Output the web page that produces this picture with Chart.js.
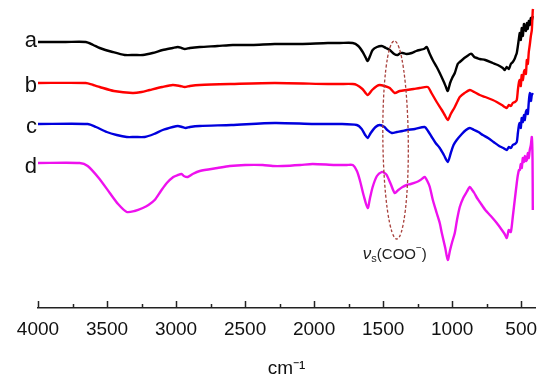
<!DOCTYPE html>
<html>
<head>
<meta charset="utf-8">
<script src="https://cdn.jsdelivr.net/npm/chart.js@4.4.1/dist/chart.umd.min.js"></script>
<style>
  html, body { margin: 0; padding: 0; background: #ffffff; }
  #wrap { width: 550px; height: 383px; position: relative; }
</style>
</head>
<body>
<div id="wrap"><canvas id="c" width="550" height="383"></canvas></div>
<script>
// ---- data (wavenumber in cm-1, offset transmittance in arbitrary units) ----
const seriesNames = ['a', 'b', 'c', 'd'];
const seriesColors = ['#000000', '#ff0000', '#0000dd', '#ee11ee'];

const wnA = [4000,3800,3654,3600,3553,3460,3372,3300,3241,3170,3097,3024,2987,2960,2937,2900,2828,2700,2589,2450,2285,2100,1900,1814,1720,1680,1648,1625,1612,1595,1576,1545,1510,1480,1452,1420,1394,1375,1358,1330,1293,1260,1235,1205,1184,1165,1141,1112,1090,1060,1045,1032,1015,1000,981,960,945,920,890,870,858,840,820,800,760,706,670,633,619,605,590,575,561,548,540,532,524,516,510,503,496,488,480,474,466,459,452,445,438,430,423,416];
const valA = [266,266,266,263,260,256,253,253,253,255,258,260,261,260,259,260,261,262,263,263,264,264,265,265,265,262,256,250,247,252,258,261,262,260,258,254,253,255,255,254,255,257,258,259,261,255,248,241,235,226,221,217,225,230,235,244,246,249,252,254,254,251,250,249,248,245,243,240,238,241,239,244,246,249,252,255,262,270,275,268,280,272,284,281,277,285,279,287,283,290,288,292];

const wnB = [4000,3654,3600,3553,3450,3314,3250,3191,3100,3024,2970,2937,2900,2828,2600,2285,1900,1814,1720,1691,1650,1612,1580,1545,1525,1490,1452,1416,1380,1329,1280,1235,1177,1150,1112,1075,1050,1032,1010,981,960,945,910,872,840,800,760,706,677,640,619,604,590,575,561,545,532,524,516,510,503,496,488,480,474,466,459,452,445,438,430,423,416,414];
const valB = [225,225,223,221,217,215,216,218,221,223,222,221,222,223,224,225,224,224,224,223,219,213,218,222,223,222,220,215,217,218,219,220,221,215,206,198,192,188,194,201,207,211,215,218,216,213,211,208,206,203,201,200,203,202,205,206,208,218,226,228,222,233,228,236,238,234,248,244,256,263,272,278,298,299];

const wnC = [4000,3640,3580,3502,3430,3357,3300,3227,3160,3097,3024,2987,2955,2930,2900,2828,2600,2285,2000,1814,1691,1655,1630,1612,1590,1555,1525,1490,1470,1437,1400,1360,1329,1270,1199,1175,1148,1120,1090,1060,1032,1010,990,967,930,900,872,840,810,778,740,700,660,630,604,590,575,561,545,532,524,516,510,503,496,488,480,474,466,459,452,445,438,430,423,416];
const valC = [184,184,181,176,173,171,171,171,174,178,181,182,181,180,181,182,183,185,184,184,183,179,173,170,175,181,183,181,178,175,176,177,178,179,181,177,171,165,160,153,146,155,163,168,174,178,180,178,176,173,170,166,162,160,158,161,160,163,164,166,175,183,185,180,190,186,193,188,196,198,194,206,215,207,213,215];

const wnD = [4000,3698,3640,3560,3480,3420,3357,3300,3241,3200,3155,3110,3067,3020,2987,2960,2944,2915,2880,2828,2700,2611,2500,2372,2300,2227,2100,2010,1850,1764,1720,1690,1669,1640,1612,1595,1576,1545,1510,1490,1474,1445,1416,1390,1360,1329,1300,1257,1230,1199,1180,1162,1140,1112,1090,1075,1050,1032,1015,1000,981,965,945,920,895,872,855,840,820,800,760,720,677,640,620,604,590,575,561,545,532,524,516,510,503,496,488,480,474,466,459,452,445,438,430,423,418,416];
const valD = [145,145,142,130,115,104,96,97,100,103,108,117,125,131,133,134,132,131,134,137,140,142,143,143,142,142,143,144,143,143,143,137,128,112,100,110,121,132,136,135,133,124,115,118,121,123,124,126,128,131,127,121,108,95,85,75,60,48,58,66,75,88,101,110,116,121,118,115,110,106,98,92,85,78,74,70,78,76,91,110,125,133,138,138,144,140,150,146,152,147,148,155,150,158,163,171,150,98];

const xTickValues = [4000,3500,3000,2500,2000,1500,1000,500];
const xMinorTickValues = [3750,3250,2750,2250,1750,1250,750];
const xRange = [400, 4000];
const yRange = [0, 300];

// annotation
const ellipseCenter = { wn: 1410, val: 168 };
const ellipseHalf = { wn: 92, val: 99 };
const noteAnchor = { wn: 1647, val: 49 };
const labelOffsets = [5, 9, 9, 10];

const wnList = [wnA, wnB, wnC, wnD];
const valList = [valA, valB, valC, valD];

const datasets = seriesNames.map((n, i) => ({
  label: n,
  data: wnList[i].map((w, k) => ({ x: w, y: valList[i][k] })),
  borderColor: seriesColors[i],
  borderWidth: 2.4,
  pointRadius: 0,
  fill: false,
  tension: 0.25,
  order: 4 - i
}));

const FONT = "'Liberation Sans', Arial, sans-serif";

const decor = {
  id: 'decor',
  afterDraw(chart) {
    const ctx = chart.ctx;
    const xs = chart.scales.x, ys = chart.scales.y;
    const base = ys.bottom;
    ctx.save();
    // inward tick marks
    ctx.strokeStyle = '#222';
    ctx.lineWidth = 1.5;
    xTickValues.forEach(v => {
      const px = Math.round(xs.getPixelForValue(v)) + 0.5;
      ctx.beginPath(); ctx.moveTo(px, base); ctx.lineTo(px, base - 7); ctx.stroke();
    });
    xMinorTickValues.forEach(v => {
      const px = Math.round(xs.getPixelForValue(v)) + 0.5;
      ctx.beginPath(); ctx.moveTo(px, base); ctx.lineTo(px, base - 4); ctx.stroke();
    });
    // series letters
    ctx.fillStyle = '#111';
    ctx.font = '22px ' + FONT;
    ctx.textAlign = 'right';
    ctx.textBaseline = 'alphabetic';
    seriesNames.forEach((n, i) => {
      const y = ys.getPixelForValue(valList[i][0]) + labelOffsets[i];
      ctx.fillText(n, xs.getPixelForValue(wnList[i][0]) - 1, y);
    });
    // dashed ellipse
    const cx = xs.getPixelForValue(ellipseCenter.wn);
    const cy = ys.getPixelForValue(ellipseCenter.val);
    const rx = Math.abs(xs.getPixelForValue(ellipseCenter.wn - ellipseHalf.wn) - cx);
    const ry = Math.abs(ys.getPixelForValue(ellipseCenter.val + ellipseHalf.val) - cy);
    ctx.strokeStyle = '#a8403c';
    ctx.lineWidth = 1.3;
    ctx.setLineDash([3, 2]);
    ctx.beginPath();
    ctx.ellipse(cx, cy, rx, ry, -0.012, 0, Math.PI * 2);
    ctx.stroke();
    ctx.setLineDash([]);
    // note text  νs(COO⁻)
    let tx = xs.getPixelForValue(noteAnchor.wn);
    const ty = ys.getPixelForValue(noteAnchor.val);
    ctx.textAlign = 'left';
    ctx.fillStyle = '#222';
    ctx.font = 'italic 17px ' + FONT;
    ctx.fillText('ν', tx, ty);
    tx += ctx.measureText('ν').width;
    ctx.font = '11px ' + FONT;
    ctx.fillText('s', tx, ty + 3);
    tx += ctx.measureText('s').width;
    ctx.font = '15px ' + FONT;
    ctx.fillText('(COO', tx, ty);
    tx += ctx.measureText('(COO').width;
    ctx.font = '10px ' + FONT;
    ctx.fillText('−', tx, ty - 8);
    tx += ctx.measureText('−').width;
    ctx.font = '15px ' + FONT;
    ctx.fillText(')', tx, ty);
    ctx.restore();
  }
};

new Chart(document.getElementById('c'), {
  type: 'line',
  data: { datasets },
  options: {
    responsive: false,
    animation: false,
    devicePixelRatio: 1,
    layout: { padding: { left: 38, right: 15, top: 8, bottom: 0 } },
    plugins: { legend: { display: false }, tooltip: { enabled: false } },
    scales: {
      x: {
        type: 'linear',
        reverse: true,
        min: xRange[0],
        max: xRange[1],
        afterBuildTicks(scale) { scale.ticks = xTickValues.map(v => ({ value: v })); },
        afterFit(scale) { scale.height = 75; },
        grid: { display: false, drawTicks: false },
        border: { display: true, color: '#222', width: 1.5 },
        ticks: {
          color: '#111',
          padding: 10,
          maxRotation: 0,
          autoSkip: false,
          font: { family: FONT, size: 19 },
          callback: v => String(v)
        },
        title: {
          display: true,
          text: 'cm⁻¹',
          color: '#111',
          font: { family: FONT, size: 19 },
          padding: { top: 0, bottom: 3 }
        }
      },
      y: {
        display: false,
        min: yRange[0],
        max: yRange[1]
      }
    }
  },
  plugins: [decor]
});
</script>
</body>
</html>
